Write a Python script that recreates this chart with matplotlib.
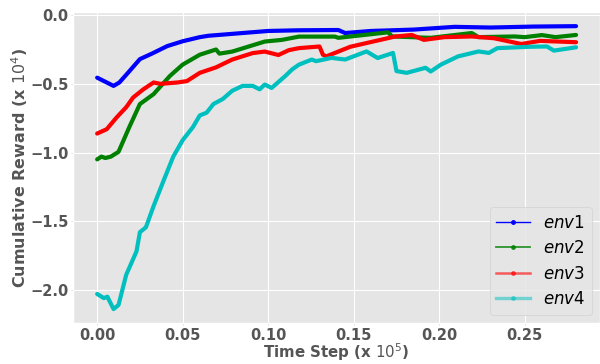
import matplotlib
matplotlib.use("Agg")
import matplotlib.pyplot as plt
from matplotlib.lines import Line2D
import numpy as np

plt.style.use("ggplot")

env1_t = [0.0, 0.004, 0.0096, 0.013, 0.018, 0.025, 0.032, 0.041, 0.05, 0.06, 0.065, 0.08, 0.1, 0.118, 0.141, 0.145, 0.16, 0.185, 0.209, 0.23, 0.255, 0.28]
env1_v = [-0.455, -0.48, -0.515, -0.49, -0.42, -0.32, -0.28, -0.225, -0.19, -0.16, -0.15, -0.135, -0.115, -0.11, -0.108, -0.13, -0.115, -0.105, -0.085, -0.09, -0.083, -0.08]

env2_t = [0.0, 0.0025, 0.0048, 0.008, 0.0125, 0.0188, 0.025, 0.033, 0.0425, 0.05, 0.06, 0.0695, 0.0715, 0.079, 0.098, 0.108, 0.118, 0.139, 0.141, 0.17, 0.1725, 0.195, 0.219, 0.223, 0.244, 0.25, 0.26, 0.268, 0.28]
env2_v = [-1.05, -1.03, -1.04, -1.03, -0.995, -0.815, -0.647, -0.575, -0.443, -0.36, -0.288, -0.25, -0.28, -0.265, -0.192, -0.18, -0.156, -0.156, -0.165, -0.125, -0.155, -0.165, -0.13, -0.16, -0.155, -0.16, -0.145, -0.16, -0.144]

env3_t = [0.0, 0.0056, 0.0115, 0.017, 0.021, 0.027, 0.033, 0.037, 0.047, 0.0525, 0.06, 0.0695, 0.079, 0.091, 0.098, 0.106, 0.112, 0.118, 0.13, 0.132, 0.134, 0.148, 0.174, 0.184, 0.191, 0.203, 0.219, 0.232, 0.248, 0.259, 0.28]
env3_v = [-0.862, -0.83, -0.743, -0.67, -0.6, -0.54, -0.49, -0.5, -0.49, -0.48, -0.42, -0.38, -0.323, -0.276, -0.265, -0.29, -0.255, -0.24, -0.228, -0.288, -0.3, -0.23, -0.156, -0.144, -0.18, -0.16, -0.155, -0.168, -0.21, -0.187, -0.197]

env4_t = [0.0, 0.0039, 0.006, 0.0096, 0.0125, 0.017, 0.023, 0.025, 0.0285, 0.033, 0.039, 0.0445, 0.05, 0.056, 0.06, 0.064, 0.068, 0.0735, 0.079, 0.085, 0.091, 0.095, 0.098, 0.102, 0.11, 0.114, 0.118, 0.1255, 0.128, 0.137, 0.145, 0.1575, 0.164, 0.173, 0.175, 0.181, 0.192, 0.195, 0.201, 0.211, 0.223, 0.229, 0.234, 0.253, 0.263, 0.267, 0.28]
env4_v = [-2.03, -2.06, -2.05, -2.14, -2.11, -1.89, -1.72, -1.58, -1.545, -1.39, -1.2, -1.03, -0.91, -0.815, -0.73, -0.71, -0.647, -0.61, -0.55, -0.515, -0.515, -0.54, -0.505, -0.53, -0.443, -0.395, -0.36, -0.323, -0.335, -0.311, -0.323, -0.264, -0.312, -0.275, -0.407, -0.42, -0.383, -0.41, -0.36, -0.3, -0.264, -0.275, -0.24, -0.23, -0.228, -0.258, -0.234]

labels = [r"$env1$", r"$env2$", r"$env3$", r"$env4$"]
colors = ["b", "g", "r", "c"]

fig = plt.figure(figsize=(6.0, 3.64), dpi=100)
ax = fig.add_axes([0.122, 0.112, 0.878, 0.855])

for t, v, c in zip([env1_t, env2_t, env3_t, env4_t], [env1_v, env2_v, env3_v, env4_v], colors):
    ax.plot(t, v, color=c, linewidth=3.0, solid_capstyle="round")

handles = [
    Line2D([], [], color="b", marker=".", linewidth=1.0, markersize=5),
    Line2D([], [], color="g", marker=".", linewidth=1.3, alpha=0.8, markersize=5),
    Line2D([], [], color="r", marker=".", linewidth=1.8, alpha=0.6, markersize=5),
    Line2D([], [], color="c", marker=".", linewidth=2.4, alpha=0.5, markersize=5),
]
ax.legend(handles, labels, loc="lower right", fontsize=12, handlelength=2.0,
          borderaxespad=0.5, labelspacing=0.45)

ax.set_yticks([0.0, -0.5, -1.0, -1.5, -2.0])
ax.set_xticks([0.0, 0.05, 0.10, 0.15, 0.20, 0.25])
ax.set_xticklabels(["0.00", "0.05", "0.10", "0.15", "0.20", "0.25"])
ax.tick_params(length=1.5, pad=2.0, color="#dddddd")
for lab in ax.get_xticklabels() + ax.get_yticklabels():
    lab.set_fontweight("bold")
    lab.set_fontsize(10.5)
    lab.set_color("#555555")
ax.set_xlabel(r"Time Step (x $10^5$)", fontsize=10.8, fontweight="bold", color="#555555")
ax.set_ylabel(r"Cumulative Reward (x $10^4$)", fontsize=11.5, fontweight="bold", color="#555555")
ax.xaxis.set_label_coords(0.5605, 0.002, transform=fig.transFigure)
ax.yaxis.set_label_coords(-0.102, 0.5, transform=ax.transAxes)
ax.xaxis.label.set_va("bottom")
ax.yaxis.label.set_va("center")

fig.savefig("out.png", dpi=100)
